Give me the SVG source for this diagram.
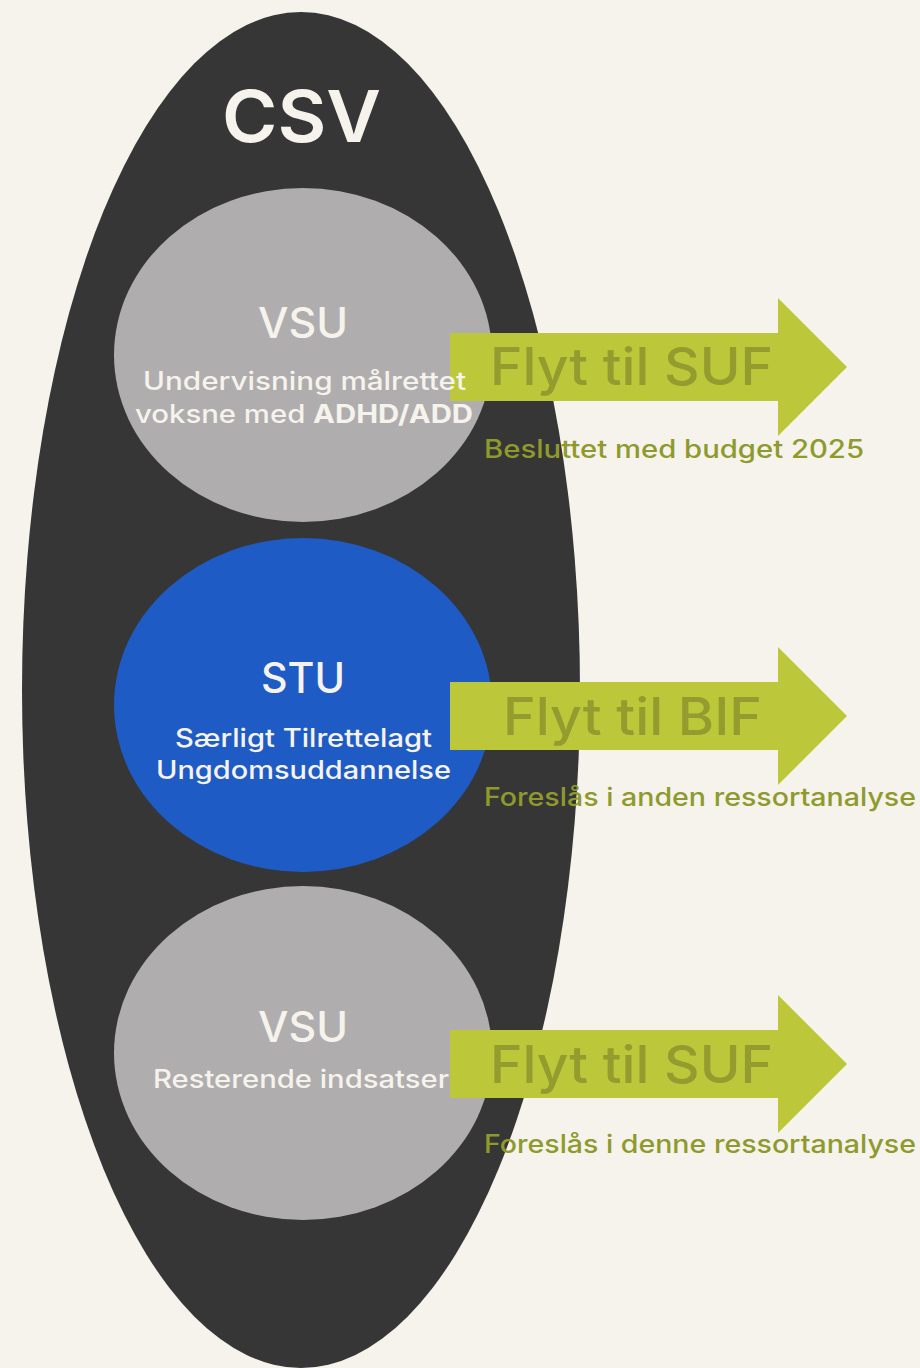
<svg xmlns="http://www.w3.org/2000/svg" width="920" height="1368" viewBox="0 0 920 1368">
<style>
.t{font-family:Inter,"Open Sans","Liberation Sans",sans-serif;fill:#f6f3ec;font-weight:500}
.big{font-size:42px}
.sub{font-size:25px}
.arr{fill:#bcc83a}
.al{font-family:Inter,"Open Sans","Liberation Sans",sans-serif;font-size:52px;fill:#949b2f;font-weight:500}
.note{font-family:Inter,"Open Sans","Liberation Sans",sans-serif;font-size:25px;fill:#8e9a2c;font-weight:500}
.title{font-size:72px;font-weight:600}
.b{font-weight:700}
</style>
<rect width="920" height="1368" fill="#f6f3ec"/>
<g id="csv">
<ellipse cx="301" cy="690" rx="279" ry="678" fill="#363636"/>
<text class="t title" x="222" y="142" textLength="159" lengthAdjust="spacingAndGlyphs">CSV</text>
</g>
<g id="vsu1">
<ellipse cx="303" cy="355" rx="189" ry="167" fill="#afadae"/>
</g>
<g id="stu">
<ellipse cx="303" cy="705" rx="189" ry="167" fill="#1f5bc5"/>
</g>
<g id="vsu2">
<ellipse cx="303" cy="1053" rx="189" ry="167" fill="#afadae"/>
</g>
<g id="connectors">
<g id="arrow1">
<polygon class="arr" points="450,333 778,333 778,298 847,367 778,436 778,401 450,401"/>
<text class="al" x="490" y="385" textLength="283" lengthAdjust="spacingAndGlyphs">Flyt til SUF</text>
<text class="note" x="484" y="458" textLength="380" lengthAdjust="spacingAndGlyphs">Besluttet med budget 2025</text>
</g>
<g id="arrow2">
<polygon class="arr" points="450,682 778,682 778,647 847,716 778,785 778,750 450,750"/>
<text class="al" x="503" y="735" textLength="259" lengthAdjust="spacingAndGlyphs">Flyt til BIF</text>
<text class="note" x="484" y="806" textLength="432" lengthAdjust="spacingAndGlyphs">Foreslås i anden ressortanalyse</text>
</g>
<g id="arrow3">
<polygon class="arr" points="450,1030 778,1030 778,995 847,1064 778,1133 778,1098 450,1098"/>
<text class="al" x="490" y="1083" textLength="283" lengthAdjust="spacingAndGlyphs">Flyt til SUF</text>
<text class="note" x="484" y="1153" textLength="432" lengthAdjust="spacingAndGlyphs">Foreslås i denne ressortanalyse</text>
</g>
</g>
<g id="vsu1-label">
<text class="t big" x="258" y="338" textLength="90" lengthAdjust="spacingAndGlyphs">VSU</text>
<text class="t sub" x="143" y="390" textLength="323" lengthAdjust="spacingAndGlyphs">Undervisning målrettet</text>
<text class="t sub" x="135" y="423" textLength="338" lengthAdjust="spacingAndGlyphs">voksne med <tspan class="b">ADHD/ADD</tspan></text>
</g>
<g id="stu-label">
<text class="t big" x="261" y="693" textLength="84" lengthAdjust="spacingAndGlyphs">STU</text>
<text class="t sub" x="175" y="747" textLength="257" lengthAdjust="spacingAndGlyphs">Særligt Tilrettelagt</text>
<text class="t sub" x="156" y="779" textLength="295" lengthAdjust="spacingAndGlyphs">Ungdomsuddannelse</text>
</g>
<g id="vsu2-label">
<text class="t big" x="258" y="1042" textLength="90" lengthAdjust="spacingAndGlyphs">VSU</text>
<text class="t sub" x="153" y="1088" textLength="296" lengthAdjust="spacingAndGlyphs">Resterende indsatser</text>
</g>
</svg>
